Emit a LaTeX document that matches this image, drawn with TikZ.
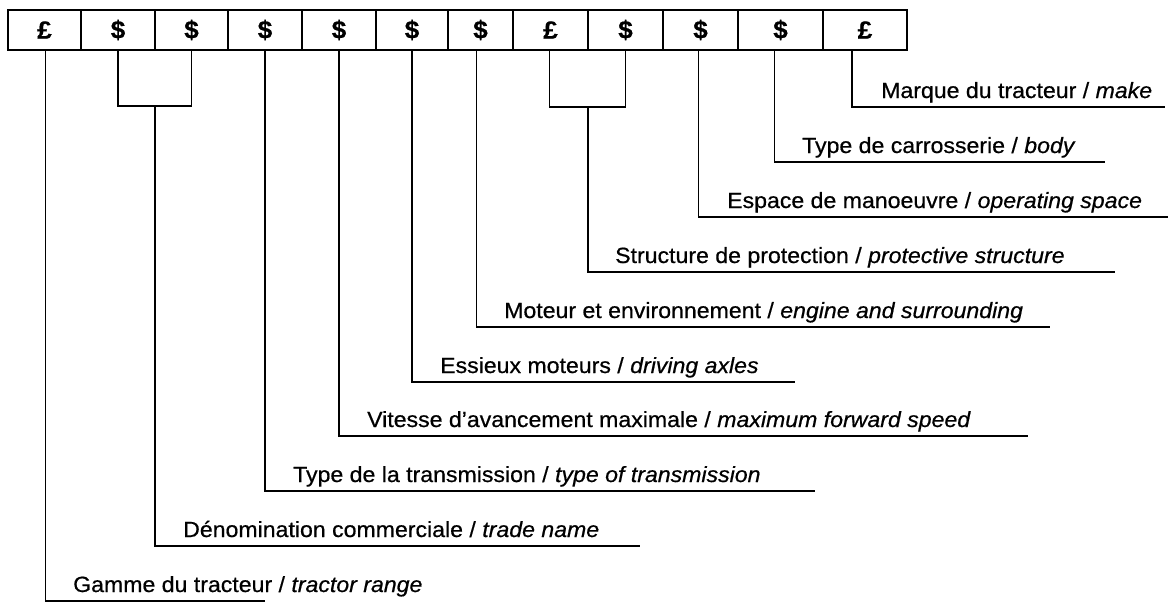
\documentclass[tikz,border=0pt]{standalone}
\usepackage{fontspec}
\setmainfont{Liberation Sans}[FakeStretch=1.05,FakeBold=0.6]
\begin{document}
\begin{tikzpicture}[x=1pt,y=-1pt,
        cell/.style={draw,line width=1.6pt,minimum height=40pt,inner sep=0pt,font=\fontsize{25}{28}\selectfont\bfseries},
        tag/.style={anchor=base west,inner sep=0pt,font=\fontsize{22}{26}\selectfont},
        wire/.style={line width=1.4pt}]
        \useasboundingbox (0,0) rectangle (1169,602);
        %% Boxes
        \foreach \n/\a/\b/\s in {1/8/81/£,2/81/155/\$,3/155/228/\$,4/228/302/\$,5/302/376/\$,6/376/448/\$,
                7/448/513/\$,8/513/588/£,9/588/663/\$,10/663/738/\$,11/738/823/\$,12/823/907/£}
            \node[cell,minimum width={\b-\a}] (b\n) at ({(\a+\b)/2},30) {\s};
        %% Labels
        \node[tag] (l1) at (881,98) {Marque du tracteur / \textit{make}};
        \node[tag] (l2) at (802,153) {Type de carrosserie / \textit{body}};
        \node[tag] (l3) at (727,208) {Espace de manoeuvre / \textit{operating space}};
        \node[tag] (l4) at (615,263) {Structure de protection / \textit{protective structure}};
        \node[tag] (l5) at (504,318) {Moteur et environnement / \textit{engine and surrounding}};
        \node[tag] (l6) at (440,373) {Essieux moteurs / \textit{driving axles}};
        \node[tag] (l7) at (367,427) {Vitesse d’avancement maximale / \textit{maximum forward speed}};
        \node[tag] (l8) at (293,482) {Type de la transmission / \textit{type of transmission}};
        \node[tag] (l9) at (183,537) {Dénomination commerciale / \textit{trade name}};
        \node[tag] (l10) at (73,592) {Gamme du tracteur / \textit{tractor range}};
        %% Line ends
        \coordinate (e1) at (1165,107);
        \coordinate (e2) at (1105,162);
        \coordinate (e3) at (1168,217);
        \coordinate (e4) at (1115,272);
        \coordinate (e5) at (1050,327);
        \coordinate (e6) at (795,382);
        \coordinate (e7) at (1028,436);
        \coordinate (e8) at (815,491);
        \coordinate (e9) at (640,546);
        \coordinate (e10) at (265,601);
        \coordinate (j1) at (155,106);
        \coordinate (j2) at (588,107);
        %% Connectors
        \draw[wire] ([xshift=-13pt]b12.south) |- (e1);
        \draw[wire] ([xshift=-6pt]b11.south) |- (e2);
        \draw[wire] ([xshift=-2pt]b10.south) |- (e3);
        \draw[wire] ([xshift=-1pt]b8.south) |- (j2) -| (b9.south);
        \draw[wire] (j2) |- (e4);
        \draw[wire] ([xshift=-4pt]b7.south) |- (e5);
        \draw[wire] (b6.south) |- (e6);
        \draw[wire] (b5.south) |- (e7);
        \draw[wire] (b4.south) |- (e8);
        \draw[wire] (b2.south) |- (j1) -| (b3.south);
        \draw[wire] (j1) |- (e9);
        \draw[wire] ([xshift=1pt]b1.south) |- (e10);
    \end{tikzpicture}
\end{document}
